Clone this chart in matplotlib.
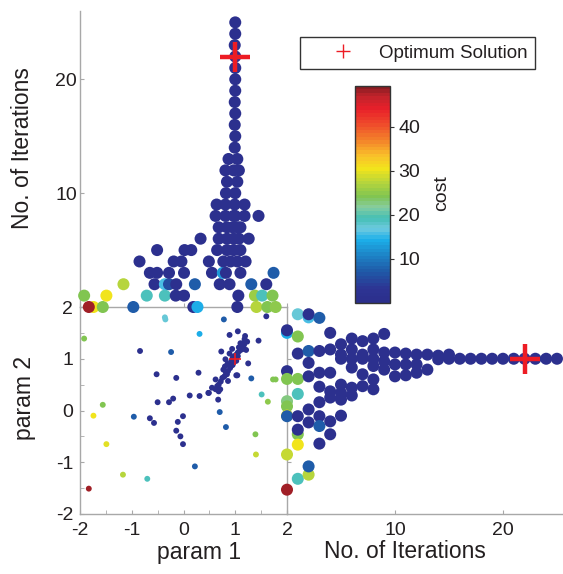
import matplotlib
matplotlib.use("Agg")
import matplotlib.pyplot as plt
from matplotlib.colors import LinearSegmentedColormap, Normalize
from matplotlib.cm import ScalarMappable
from matplotlib.lines import Line2D
from matplotlib.ticker import MultipleLocator

plt.rcParams['font.family'] = ['Liberation Sans', 'DejaVu Sans']
plt.rcParams['axes.unicode_minus'] = False

# optimum
opt_p1, opt_p2, opt_iter = 1.0, 1.0, 22

# top panel: param 1 values per iteration (row index = iteration) and their cost
top_p1 = [
    [-1.74, -1.83, -1.56, -0.97, 0.19, 0.27, 1.04, 1.41, 1.62, 1.78],
    [-1.92, -1.49, -0.71, -0.36, -0.15, 0.01, 1.06, 1.38, 1.52, 1.72],
    [-1.16, -0.56, -0.36, -0.28, -0.14, 0.22, 0.70, 0.89, 1.31, 1.60],
    [-0.65, -0.51, -0.28, 0.01, 0.55, 0.76, 0.82, 1.10, 1.74],
    [-0.85, -0.19, -0.04, 0.49, 0.77, 0.91, 1.04, 1.20],
    [-0.51, 0.02, 0.15, 0.65, 0.84, 0.97, 1.10],
    [0.33, 0.68, 0.84, 0.97, 1.07, 1.26],
    [0.68, 0.84, 0.95, 1.04, 1.10],
    [0.62, 0.81, 0.97, 1.00, 1.18, 1.45],
    [0.64, 0.81, 0.99, 1.18],
    [0.82, 1.00],
    [0.84, 1.04],
    [0.81, 0.97, 1.07],
    [0.87, 1.04],
    [0.99], [1.00], [0.99], [1.00], [0.99], [1.00],
    [1.00], [1.00], [1.00], [0.99], [1.00], [1.00],
]
top_cost = [
    [30.5, 48, 24, 7, 1.5, 14, 1.5, 27.5, 24, 25],
    [24, 30.5, 19, 19, 1.5, 1.5, 1.5, 25.5, 19, 24],
    [27, 1.5, 16, 6, 1.5, 7, 1.5, 1.5, 7, 1.5],
    [1.5, 1.5, 1.5, 1.5, 1.5, 13, 1.5, 1.5, 7],
]

# right panel: param 2 values per iteration and their cost
right_p2 = [
    [1.50, 1.55, 0.76, 0.61, 0.18, 0.08, -0.10, -0.11, -0.85, -1.53],
    [1.86, 1.43, 1.10, 0.61, 0.32, -0.11, -0.46, -0.37, -0.66, -1.32],
    [1.80, 1.86, 1.15, 0.92, 0.66, 0.02, -0.23, -1.24, -1.08],
    [1.79, 1.15, 0.73, 0.46, 0.16, -0.11, -0.30, -0.64],
    [1.50, 1.18, 0.73, 0.37, 0.25, -0.21, -0.46],
    [1.28, 1.08, 1.00, 0.50, 0.34, 0.21, -0.10],
    [1.39, 1.18, 1.00, 0.83, 0.44, 0.29],
    [1.34, 1.08, 1.00, 0.70, 0.47],
    [1.39, 1.18, 1.00, 0.86, 0.60, 0.41],
    [1.48, 1.12, 0.95, 0.79],
    [1.12, 0.89, 0.66],
    [1.10, 0.89, 0.68],
    [1.08, 0.89, 0.73],
    [1.08, 0.79],
    [1.06, 0.99],
    [1.08, 1.00],
    [1.00], [1.00], [1.00], [1.00], [1.00],
    [1.00], [1.00], [1.00], [1.00], [1.00],
]
right_cost = [
    [14, 1.5, 1.5, 24, 23, 24, 30.5, 7, 28, 48],
    [17, 24, 1.5, 24, 19, 1.5, 24, 1.5, 30.5, 19],
    [16, 1.5, 7, 1.5, 1.5, 1.5, 1.5, 27.5, 7],
    [7, 1.5, 1.5, 1.5, 1.5, 1.5, 7, 1.5],
]

# main panel: every evaluated point (param 1, param 2, cost)
main_p1 = [-1.92, -0.36, -0.35, 0.31, 0.78, 1.60, -0.84, -0.24, -0.52, -0.14,
           0.29, -1.56, -1.74, -1.49, -1.17, -0.70, -1.83, -0.96, -0.50, -0.28,
           -0.20, -0.65, -0.57, -0.11, -0.01, -0.14, -0.06, -0.01, 0.22, 0.12,
           0.31, 0.48, 0.70, 0.82, 1.04, 1.25, 1.31, 1.45, 1.51, 1.63,
           1.73, 1.78, 1.39, 1.40, 0.89, 1.05, 1.19, 0.73, 0.94, 0.89,
           0.81, 0.77, 0.84, 1.02, 0.79, 0.86, 0.62, 0.55, 0.65, 0.68,
           0.49, 0.71, 0.62, 0.67, 0.80, 0.85, 0.88, 0.92, 0.95, 0.98,
           1.00, 1.02, 1.05, 1.08, 1.10, 1.12, 1.15, 1.18, 1.07, 1.13,
           1.17, 0.97, 0.90, 0.86, 0.82, 0.75, 0.72, 0.68, 1.21, 1.23,
           1.02, 1.10, 1.15, 0.95, 1.05, 0.92]
main_p2 = [1.39, 1.80, 1.76, 1.48, 1.76, 1.82, 1.15, 1.13, 0.70, 0.63,
           0.73, 0.11, -0.10, -0.65, -1.24, -1.32, -1.51, -0.12, 0.16, 0.16,
           0.23, -0.15, -0.24, -0.22, -0.11, -0.39, -0.50, -0.65, -1.08, 0.29,
           0.28, 0.34, -0.03, -0.32, 0.68, 0.91, 0.62, 1.35, 0.31, 0.17,
           0.60, 0.60, -0.46, -0.85, 1.46, 1.53, 1.44, 1.14, 1.19, 1.10,
           0.99, 0.79, 0.70, 0.68, 0.66, 0.57, 0.60, 0.44, 0.47, 0.37,
           0.34, 0.41, 0.41, 0.21, 0.85, 0.90, 0.88, 0.95, 1.02, 1.05,
           1.00, 1.08, 1.12, 1.15, 1.20, 1.25, 1.30, 1.38, 1.22, 1.18,
           1.27, 0.93, 0.82, 0.76, 0.73, 0.63, 0.56, 0.50, 1.17, 1.33,
           0.96, 1.30, 1.22, 0.88, 1.05, 0.86]
main_cost = [24, 17, 17, 14, 7, 1.5, 1.5, 7, 1.5, 1.5,
             1.5, 24, 30.5, 30, 27.5, 19, 48, 7, 1.5, 1.5,
             1.5, 1.5, 1.5, 1.5, 1.5, 1.5, 1.5, 1.5, 7, 1.5,
             1.5, 1.5, 7, 7, 1.5, 1.5, 7, 1.5, 19, 25,
             24, 24, 24, 28, 1.5, 1.5, 1.5, 1.5, 1.5, 1.5,
             1.5, 1.5, 1.5, 1.5, 1.5, 1.5, 1.5, 1.5, 1.5, 1.5,
             1.5, 1.5, 1.5, 1.5, 1.5, 1.5, 1.5, 1.5, 1.5, 1.5,
             1.5, 1.5, 1.5, 1.5, 1.5, 1.5, 1.5, 1.5, 1.5, 1.5,
             1.5, 1.5, 1.5, 1.5, 1.5, 1.5, 1.5, 1.5, 1.5, 1.5,
             1.5, 1.5, 1.5, 1.5, 1.5, 1.5]

cbar_ticks = [10, 20, 30, 40]
cost_max = 49.3

# jet-like colormap as it looks in the printed figure
cmap = LinearSegmentedColormap.from_list('cost', [
    (0.00, '#2b2f8c'), (0.06, '#2d3493'), (0.14, '#1f5aa8'), (0.22, '#1d86c8'),
    (0.29, '#1cb0ea'), (0.34, '#6fcadf'), (0.39, '#44bfb4'), (0.44, '#88cda0'),
    (0.49, '#7fc452'), (0.56, '#bad63a'), (0.62, '#f2e41c'), (0.68, '#f9c12a'),
    (0.75, '#f4852a'), (0.83, '#ef4a2b'), (0.90, '#e8202a'), (0.96, '#c1232b'),
    (1.00, '#8a1c22')], N=64)
norm = Normalize(0, cost_max)

W, H = 563, 574
SPINE = '#a8a8a8'
TXT = '#231f20'
RED = '#ed1c24'


def px_axes(fig, x0, y0, x1, y1):
    ax = fig.add_axes([x0 / W, 1 - y1 / H, (x1 - x0) / W, (y1 - y0) / H])
    ax.set_facecolor('none')
    for s in ['top', 'right']:
        ax.spines[s].set_visible(False)
    for s in ['left', 'bottom']:
        ax.spines[s].set_color(SPINE)
        ax.spines[s].set_linewidth(1)
    ax.tick_params(which='both', direction='in', length=3, color=SPINE,
                   labelsize=14, labelcolor=TXT)
    return ax


def flatten(rows, costs):
    xs, ys, cs = [], [], []
    for it, row in enumerate(rows):
        for j, v in enumerate(row):
            xs.append(v)
            ys.append(it)
            cs.append(costs[it][j] if it < len(costs) else 1.5)
    return xs, ys, cs


fig = plt.figure(figsize=(W / 100, H / 100), dpi=100)

# main scatter
ax = px_axes(fig, 80, 307, 287, 514)
ax.set_xlim(-2, 2)
ax.set_ylim(-2, 2)
ax.xaxis.set_major_locator(MultipleLocator(1))
ax.xaxis.set_minor_locator(MultipleLocator(0.5))
ax.yaxis.set_major_locator(MultipleLocator(1))
ax.yaxis.set_minor_locator(MultipleLocator(0.5))
ax.tick_params(axis='x', pad=6)
ax.tick_params(axis='y', pad=5)
ax.scatter(main_p1, main_p2, c=main_cost, cmap=cmap, norm=norm, s=18,
           linewidths=0, zorder=3)
ax.plot(opt_p1, opt_p2, '+', color=RED, ms=8, mew=1.2, zorder=4)

# top: param 1 vs iterations
ax_t = px_axes(fig, 80, 11, 287, 307)
ax_t.set_xlim(-2, 2)
ax_t.set_ylim(0, 26)
ax_t.set_xticks([-2, -1, 0, 1, 2])
ax_t.set_xticklabels([])
ax_t.set_yticks([10, 20])
ax_t.tick_params(axis='y', pad=2)
tx, ty, tc = flatten(top_p1, top_cost)
ax_t.scatter(tx, ty, c=tc, cmap=cmap, norm=norm, s=75, linewidths=0,
             clip_on=False, zorder=3)
ax_t.plot(opt_p1, opt_iter, '+', color=RED, ms=22, mew=3.2, clip_on=False, zorder=4)

# right: iterations vs param 2
ax_r = px_axes(fig, 287, 307, 563, 514)
ax_r.set_xlim(0, 25.56)
ax_r.set_ylim(-2, 2)
ax_r.set_xticks([0, 10, 20])
ax_r.set_xticklabels(['', '10', '20'])
ax_r.set_yticks([-1, 0, 1])
ax_r.set_yticklabels([])
ax_r.tick_params(axis='x', pad=6)
ry, rx, rc = flatten(right_p2, right_cost)
ax_r.scatter(rx, ry, c=rc, cmap=cmap, norm=norm, s=75, linewidths=0,
             clip_on=False, zorder=3)
ax_r.plot(opt_iter, opt_p2, '+', color=RED, ms=22, mew=3.2, clip_on=False, zorder=4)

# colorbar
cax = fig.add_axes([355 / W, 1 - 303 / H, 35 / W, 217 / H])
cb = fig.colorbar(ScalarMappable(norm=norm, cmap=cmap), cax=cax, ticks=cbar_ticks)
cb.outline.set_edgecolor('#333333')
cb.outline.set_linewidth(1)
cax.tick_params(labelsize=14, labelcolor=TXT, length=3, color='#333333', pad=3)
fig.text(442 / W, 1 - 193 / H, 'cost', rotation=90, ha='center', va='center',
         fontsize=14, color=TXT)

# legend
leg = fig.legend(handles=[Line2D([], [], ls='none', marker='+', color=RED, ms=10, mew=1)],
                 labels=['Optimum Solution'], loc='upper left',
                 bbox_to_anchor=(300 / W, 1 - 37 / H), fontsize=13.5,
                 fancybox=False, edgecolor='#333333', framealpha=1,
                 borderpad=0.4, handlelength=3.8, handletextpad=0.0,
                 borderaxespad=0)
leg.get_frame().set_linewidth(1)
for t in leg.get_texts():
    t.set_color(TXT)

# axis labels
fig.text(23 / W, 1 - 148 / H, 'No. of Iterations', rotation=90, ha='center',
         va='center', fontsize=16.5, color=TXT)
fig.text(25 / W, 1 - 398 / H, 'param 2', rotation=90, ha='center',
         va='center', fontsize=16.5, color=TXT)
fig.text(199 / W, 1 - 552 / H, 'param 1', ha='center', va='center',
         fontsize=16.5, color=TXT)
fig.text(405 / W, 1 - 552 / H, 'No. of Iterations', ha='center', va='center',
         fontsize=16.5, color=TXT)

fig.savefig('out.png', dpi=100)
